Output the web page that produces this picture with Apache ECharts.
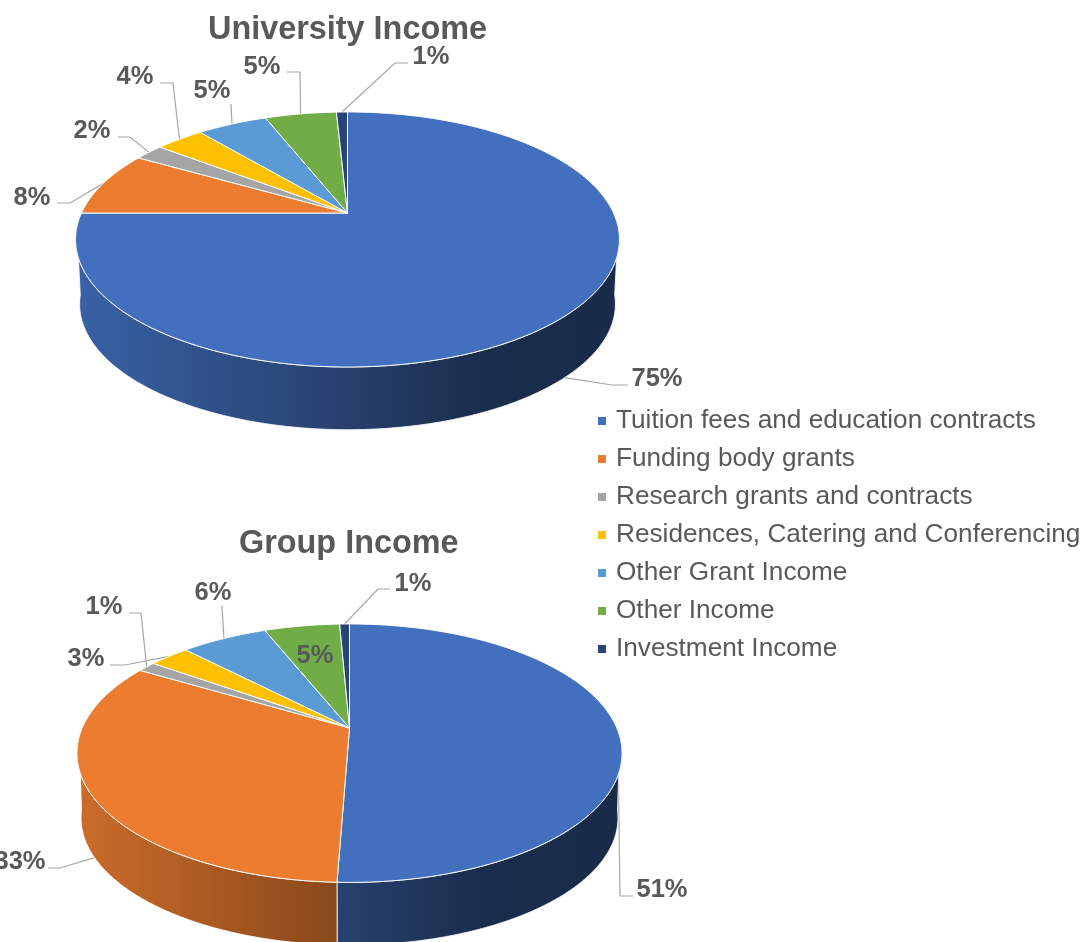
<!DOCTYPE html>
<html>
<head>
<meta charset="utf-8">
<style>html,body{margin:0;padding:0;background:#fff}#c{width:1087px;height:942px}</style>
<script src="https://cdn.jsdelivr.net/npm/echarts@6/dist/echarts.min.js"></script>
</head>
<body>
<div id="c"></div>
<script>
// ---- data ----
const categories = ['Tuition fees and education contracts','Funding body grants','Research grants and contracts','Residences, Catering and Conferencing','Other Grant Income','Other Income','Investment Income'];
const universityValues = [75, 8.3, 2.1, 3.5, 5.1, 5.2, 0.8];
const groupValues = [50.6, 32.9, 1.3, 2.9, 6.2, 5.4, 0.7];
const pieTitles = ['University Income', 'Group Income'];

// ---- styles and layout ----
const colors = ['#4270BF','#EB7C30','#A5A5A5','#FFC000','#5B9BD5','#70AD47','#264478'];
const FONT = '"Liberation Sans", Arial, sans-serif';
const TEXT = '#595959';
const pies = [
  { values: universityValues, cx: 347.5, cy: 213, a: 266, b: 122, k: 0.2078, drop: 65, shrink: 0.985,
    labels: [ // text centre, leader start, leader elbow, where the leader lands
      { at:[657,379], from:[628,385], via:[612,385], on:'wall' },
      { at:[32,198],  from:[57,203],  via:[70,203],  on:'top' },
      { at:[92,131],  from:[118,137], via:[130,137], on:'top' },
      { at:[135,77],  from:[160,83],  via:[173,83],  on:'top' },
      { at:[212,91],  from:[231,104], via:[231,104], on:'top' },
      { at:[262,67],  from:[287,72],  via:[300,72],  on:'top' },
      { at:[431,57],  from:[408,63],  via:[395,63],  on:'top' }
    ] },
  { values: groupValues, cx: 349.5, cy: 728, a: 267.3, b: 124.3, k: 0.195, drop: 65, shrink: 0.985,
    labels: [
      { at:[662,890], from:[633,896], via:[620,896], on:'top' },
      { at:[20,862],  from:[48,868],  via:[60,868],  on:'wall' },
      { at:[104,607], from:[129,613], via:[141,613], on:'top' },
      { at:[86,659],  from:[110,665], via:[125,665], on:'top' },
      { at:[213,593], from:[222,606], via:[222,606], on:'top' },
      { at:[315,656] },
      { at:[413,584], from:[390,589], via:[378,589], on:'top' }
    ] }
];
const WALL_FROM = 110, WALL_TO = 250;   // visible front wall, degrees clockwise from 12 o'clock
const WALL_ROUND = 12;                  // lower rim runs on past the wall ends so the sides curve
const SHADE = [[77,0.87],[348,0.57],[480,0.40],[620,0.38]];

// ---- geometry: a disc seen in perspective ----
function project(p, deg, lower) {
  const t = deg * Math.PI / 180, u = Math.sin(t), v = -Math.cos(t);
  const w = 1 - p.k * v, s = lower ? p.shrink : 1;
  return [p.cx + p.a * s * u / w, p.cy + (lower ? p.drop : 0) + p.b * s * v / w];
}
function arc(p, from, to, lower) {
  const out = [], n = Math.max(2, Math.ceil(Math.abs(to - from) / 0.5));
  for (let i = 0; i <= n; i++) out.push(project(p, from + (to - from) * i / n, lower));
  return out;
}
function shade(hex, f) {
  const n = parseInt(hex.slice(1), 16);
  return 'rgb(' + [(n >> 16) & 255, (n >> 8) & 255, n & 255].map(c => Math.round(c * f)).join(',') + ')';
}
function wallFill(hex) {
  const x0 = SHADE[0][0], x1 = SHADE[SHADE.length - 1][0];
  return new echarts.graphic.LinearGradient(x0, 0, x1, 0,
    SHADE.map(s => ({ offset: (s[0] - x0) / (x1 - x0), color: shade(hex, s[1]) })), true);
}
function renderSlice(params, api) {
  const pie = pies[api.value(0)], c = params.seriesIndex, value = api.value(1);
  const total = pie.values.reduce((a, b) => a + b, 0);
  const before = pie.values.slice(0, c).reduce((a, b) => a + b, 0);
  const start = before / total * 360, end = (before + value) / total * 360, mid = (start + end) / 2;
  const children = [];
  // front wall
  const ws = Math.max(start, WALL_FROM), we = Math.min(end, WALL_TO);
  if (we > ws) {
    const ls = ws === WALL_FROM ? ws - WALL_ROUND : ws, le = we === WALL_TO ? we + WALL_ROUND : we;
    children.push({ type: 'polygon', z2: 1,
      shape: { points: arc(pie, ws, we, false).concat(arc(pie, le, ls, true)) },
      style: { fill: wallFill(colors[c]), stroke: '#ffffff', lineWidth: 0.8 } });
  }
  // top face
  children.push({ type: 'polygon', z2: 2,
    shape: { points: [[pie.cx, pie.cy]].concat(arc(pie, start, end, false)) },
    style: { fill: colors[c], stroke: '#ffffff', lineWidth: 1, lineJoin: 'round' } });
  // leader and label
  const lab = pie.labels[c];
  if (lab.from) {
    children.push({ type: 'polyline', z2: 0,
      shape: { points: [lab.from, lab.via, project(pie, mid, lab.on === 'wall')] },
      style: { fill: 'none', stroke: '#a6a6a6', lineWidth: 1.2 } });
  }
  children.push({ type: 'text', z2: 3,
    style: { text: Math.round(value) + '%', x: lab.at[0], y: lab.at[1], align: 'center', verticalAlign: 'middle',
      fontFamily: FONT, fontSize: 25.5, fontWeight: 'bold', fill: TEXT } });
  return { type: 'group', children };
}

const chart = echarts.init(document.getElementById('c'), null, { renderer: 'canvas' });
chart.setOption({
  animation: false,
  backgroundColor: '#ffffff',
  title: [
    { text: pieTitles[0], left: 203, top: 9, textStyle: { fontFamily: FONT, fontSize: 32.4, fontWeight: 'bold', color: TEXT } },
    { text: pieTitles[1], left: 234, top: 523, textStyle: { fontFamily: FONT, fontSize: 32.4, fontWeight: 'bold', color: TEXT } }
  ],
  legend: {
    orient: 'vertical', left: 598, top: 408, padding: 0,
    icon: 'rect', itemWidth: 8, itemHeight: 8, itemGap: 12, selectedMode: false,
    textStyle: { fontFamily: FONT, fontSize: 26.2, color: TEXT, lineHeight: 24, padding: [0, 0, 0, 5] },
    data: categories
  },
  series: categories.map((name, c) => ({
    type: 'custom', name, coordinateSystem: 'none', silent: true,
    itemStyle: { color: colors[c] },
    renderItem: renderSlice,
    data: pies.map((p, i) => [i, p.values[c]])
  }))
});
</script>
</body>
</html>
